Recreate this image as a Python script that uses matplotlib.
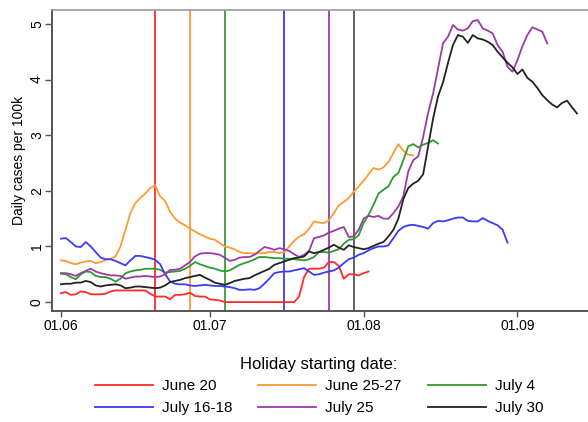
import matplotlib
matplotlib.use("Agg")
import matplotlib.pyplot as plt

plt.rcParams['font.family'] = ['Liberation Sans', 'DejaVu Sans']

# days since 1 June
red_days = list(range(0, 34)) + [47, 48, 49, 50, 51, 52, 53, 54, 55, 56, 57, 58, 59, 60, 61, 62]
red_vals = [0.16, 0.18, 0.13, 0.14, 0.19, 0.18, 0.14, 0.14, 0.14, 0.15, 0.19, 0.21, 0.21, 0.21, 0.21, 0.21,
            0.21, 0.21, 0.15, 0.1, 0.1, 0.1, 0.05, 0.13, 0.13, 0.14, 0.17, 0.11, 0.1, 0.1, 0.05, 0.04, 0.03, 0.0,
            0.0, 0.1, 0.45, 0.6, 0.6, 0.6, 0.62, 0.72, 0.72, 0.65, 0.42, 0.5, 0.5, 0.48, 0.52, 0.55]

blue_vals = [1.14, 1.15, 1.08, 1.0, 0.99, 1.08, 1.0, 0.9, 0.8, 0.77, 0.77, 0.74, 0.7, 0.66, 0.75, 0.83,
             0.83, 0.81, 0.79, 0.76, 0.68, 0.5, 0.37, 0.33, 0.32, 0.32, 0.3, 0.29, 0.3, 0.31, 0.3, 0.29,
             0.29, 0.28, 0.27, 0.25, 0.22, 0.22, 0.23, 0.22, 0.25, 0.33, 0.42, 0.52, 0.54, 0.55, 0.55, 0.57,
             0.59, 0.61, 0.55, 0.49, 0.5, 0.53, 0.55, 0.57, 0.62, 0.7, 0.77, 0.8, 0.85, 0.88, 0.93, 0.97,
             1.0, 1.0, 1.02, 1.15, 1.28, 1.35, 1.38, 1.39, 1.37, 1.35, 1.32, 1.42, 1.46, 1.45, 1.47, 1.5,
             1.52, 1.52, 1.46, 1.45, 1.45, 1.51, 1.46, 1.42, 1.38, 1.3, 1.07]

orange_vals = [0.75, 0.74, 0.7, 0.68, 0.71, 0.73, 0.74, 0.7, 0.72, 0.76, 0.78, 0.82, 1.0, 1.3, 1.6, 1.78,
               1.87, 1.95, 2.05, 2.1, 1.9, 1.82, 1.62, 1.5, 1.43, 1.38, 1.32, 1.27, 1.22, 1.18, 1.14, 1.12,
               1.06, 1.0, 0.98, 0.95, 0.9, 0.88, 0.88, 0.87, 0.88, 0.88, 0.9, 0.9, 0.88, 0.9, 1.0, 1.1,
               1.18, 1.22, 1.32, 1.45, 1.43, 1.42, 1.47, 1.6, 1.74, 1.8, 1.87, 1.98, 2.08, 2.18, 2.3, 2.41,
               2.38, 2.42, 2.52, 2.68, 2.84, 2.72, 2.65, 2.64]

green_vals = [0.51, 0.5, 0.45, 0.41, 0.5, 0.55, 0.54, 0.47, 0.45, 0.45, 0.42, 0.37, 0.42, 0.52, 0.55, 0.57,
              0.58, 0.6, 0.6, 0.6, 0.58, 0.53, 0.54, 0.55, 0.56, 0.6, 0.65, 0.72, 0.68, 0.65, 0.62, 0.6,
              0.57, 0.55, 0.57, 0.62, 0.67, 0.7, 0.73, 0.77, 0.81, 0.81, 0.8, 0.79, 0.79, 0.78, 0.78, 0.77,
              0.76, 0.75, 0.77, 0.81, 0.9, 0.9, 0.89, 0.92, 0.95, 1.05, 1.12, 1.13, 1.2, 1.42, 1.57, 1.75,
              1.95, 2.02, 2.08, 2.25, 2.32, 2.55, 2.8, 2.84, 2.78, 2.83, 2.86, 2.91, 2.85]

purple_vals = [0.52, 0.52, 0.5, 0.47, 0.52, 0.56, 0.6, 0.55, 0.52, 0.5, 0.48, 0.48, 0.47, 0.42, 0.44, 0.46,
               0.46, 0.47, 0.46, 0.45, 0.46, 0.5, 0.58, 0.58, 0.6, 0.66, 0.72, 0.82, 0.87, 0.88, 0.88, 0.87,
               0.85, 0.8, 0.74, 0.76, 0.8, 0.81, 0.81, 0.85, 0.92, 0.99, 0.97, 0.94, 0.97, 0.95, 0.92, 0.86,
               0.81, 0.85, 0.92, 1.15, 1.17, 1.2, 1.25, 1.28, 1.32, 1.35, 1.17, 1.18, 1.3, 1.5, 1.55, 1.53,
               1.55, 1.5, 1.5, 1.6, 1.72, 1.9, 2.35, 2.55, 2.62, 2.97, 3.4, 3.75, 4.2, 4.65, 4.77, 4.98,
               4.9, 4.88, 4.92, 5.05, 5.07, 4.92, 4.88, 4.83, 4.62, 4.5, 4.23, 4.14, 4.35, 4.6, 4.8, 4.94,
               4.9, 4.86, 4.65]

black_vals = [0.32, 0.33, 0.33, 0.35, 0.35, 0.38, 0.36, 0.3, 0.28, 0.3, 0.31, 0.32, 0.3, 0.25, 0.26, 0.28,
              0.28, 0.27, 0.26, 0.25, 0.26, 0.3, 0.36, 0.38, 0.4, 0.43, 0.45, 0.47, 0.49, 0.44, 0.4, 0.35,
              0.33, 0.31, 0.34, 0.38, 0.4, 0.42, 0.43, 0.48, 0.52, 0.56, 0.6, 0.67, 0.7, 0.73, 0.76, 0.79,
              0.8, 0.82, 0.91, 0.88, 0.9, 0.94, 0.98, 1.03, 0.98, 0.94, 1.02, 0.99, 0.97, 0.95, 0.97, 1.01,
              1.05, 1.08, 1.18, 1.3, 1.5, 1.85, 2.05, 2.13, 2.18, 2.3, 2.8, 3.3, 3.7, 3.95, 4.3, 4.62,
              4.8, 4.77, 4.66, 4.8, 4.74, 4.72, 4.68, 4.62, 4.5, 4.4, 4.3, 4.22, 4.1, 4.18, 4.03, 3.96,
              3.85, 3.72, 3.63, 3.55, 3.5, 3.58, 3.62, 3.5, 3.39]

labels = ["June 20", "June 25-27", "July 4", "July 16-18", "July 25", "July 30"]
holiday_days = [19, 26, 33, 45, 54, 59]
colors = ["#ff2a2a", "#ff9933", "#2e9a2e", "#3a3aff", "#9b3aa8", "#222222"]
vline_colors = ["#ff2a2a", "#ff9933", "#3c9a3c", "#3a3aff", "#9b3aa8", "#555555"]

tick_days = [0, 30, 61, 92]
tick_labels = ["01.06", "01.07", "01.08", "01.09"]

series = [
    (red_days, red_vals),
    (list(range(len(orange_vals))), orange_vals),
    (list(range(len(green_vals))), green_vals),
    (list(range(len(blue_vals))), blue_vals),
    (list(range(len(purple_vals))), purple_vals),
    (list(range(len(black_vals))), black_vals),
]

fig = plt.figure(figsize=(5.88, 4.22), dpi=100)
ax = fig.add_axes([52 / 588, 1 - 311 / 422, 1 - 52 / 588 + 0.01, (311 - 10) / 422])

handles = []
for (d, v), c, lab in zip(series, colors, labels):
    h, = ax.plot(d, v, color=c, lw=1.3, label=lab, zorder=3)
    handles.append(h)
for hd, c in zip(holiday_days, vline_colors):
    ax.axvline(hd, color=c, lw=1.3, zorder=2)

ax.set_xlim(-1.8, 105.4 + 2)
ax.set_ylim(-0.16, 5.25)
ax.set_xticks(tick_days)
ax.set_xticklabels(tick_labels, fontsize=10)
ax.set_yticks([0, 1, 2, 3, 4, 5])
ax.set_yticklabels(["0", "1", "2", "3", "4", "5"], fontsize=10, rotation=90, va="center")
ax.set_ylabel("Daily cases per 100k", fontsize=10, labelpad=3)
for s in ["left", "bottom"]:
    ax.spines[s].set_color("#555555")
    ax.spines[s].set_linewidth(1.4)
ax.spines["top"].set_color("#999999")
ax.spines["top"].set_linewidth(1.2)
ax.spines["right"].set_visible(False)
ax.tick_params(axis="both", colors="#555555", labelcolor="black", width=1.0)
ax.tick_params(axis="y", length=4.8, pad=1)
ax.tick_params(axis="x", length=4, pad=1.5)

# row-major order in a 3-column legend
order = [0, 3, 1, 4, 2, 5]
leg = fig.legend([handles[i] for i in order], [labels[i] for i in order],
                 loc="upper center", bbox_to_anchor=(319 / 588, 1 - 343 / 422), ncol=3, frameon=False,
                 fontsize=11, title="Holiday starting date:", title_fontsize=12,
                 handlelength=3.8, handletextpad=0.6, columnspacing=1.7, labelspacing=0.5)

fig.savefig("out.png", dpi=100)
